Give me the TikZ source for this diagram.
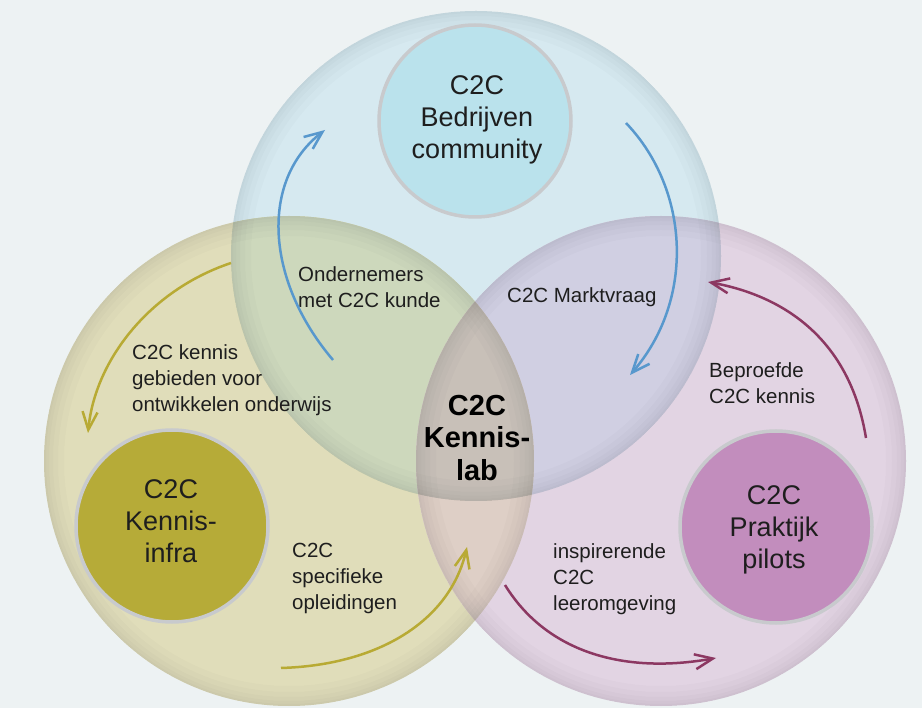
\documentclass[tikz,border=0pt]{standalone}
\usepackage{fontspec}
\setmainfont{Liberation Sans}
\usetikzlibrary{arrows.meta}
\definecolor{bg}{RGB}{237,242,243}
\definecolor{cT}{RGB}{214,233,240}
\definecolor{cL}{RGB}{224,221,186}
\definecolor{cR}{RGB}{226,212,227}
\definecolor{cTL}{RGB}{205,216,188}
\definecolor{cTR}{RGB}{208,207,226}
\definecolor{cLR}{RGB}{222,207,198}
\definecolor{cTLR}{RGB}{200,192,184}
\definecolor{tin}{RGB}{186,226,236}
\definecolor{tout}{RGB}{136,178,192}
\definecolor{lin}{RGB}{182,171,56}
\definecolor{lout}{RGB}{130,120,30}
\definecolor{rin}{RGB}{194,141,189}
\definecolor{rout}{RGB}{142,94,136}
\definecolor{rim}{RGB}{200,202,205}
\definecolor{ablue}{RGB}{88,152,205}
\definecolor{aolive}{RGB}{184,170,52}
\definecolor{apurple}{RGB}{140,56,98}
\definecolor{txt}{RGB}{30,30,30}
\pgfdeclareradialshading{ballT}{\pgfpoint{0bp}{0bp}}{color(0bp)=(tin); color(36bp)=(tin); color(50bp)=(tout); color(100bp)=(tout)}
\pgfdeclareradialshading{ballL}{\pgfpoint{0bp}{0bp}}{color(0bp)=(lin); color(36bp)=(lin); color(50bp)=(lout); color(100bp)=(lout)}
\pgfdeclareradialshading{ballR}{\pgfpoint{0bp}{0bp}}{color(0bp)=(rin); color(36bp)=(rin); color(50bp)=(rout); color(100bp)=(rout)}
\tikzset{
  ball/.style={circle, minimum size=192pt, inner sep=0pt, draw=rim, line width=3.5pt},
  bigtxt/.style={font=\fontsize{27pt}{32pt}\selectfont, text=txt, align=center, inner sep=0pt},
  centtxt/.style={font=\fontsize{29pt}{32.5pt}\selectfont\bfseries, text=black, align=center, inner sep=0pt},
  lbl/.style={font=\fontsize{20.5pt}{26pt}\selectfont, text=txt, align=left, inner sep=0pt, anchor=north west},
  arr/.style={line width=2.5pt, -{Straight Barb[length=18pt,width=15pt]}},
}
\begin{document}
\begin{tikzpicture}[x=1pt,y=-1pt]
\useasboundingbox (0,0) rectangle (922,708);
\fill[bg] (0,0) rectangle (922,708);
\coordinate (T) at (476,256);
\coordinate (L) at (289,461);
\coordinate (R) at (661,461);
\def\rr{245pt}
% regions
\fill[cT] (T) circle[radius=\rr];
\fill[cL] (L) circle[radius=\rr];
\fill[cR] (R) circle[radius=\rr];
\begin{scope}\clip (T) circle[radius=\rr]; \fill[cTL] (L) circle[radius=\rr]; \end{scope}
\begin{scope}\clip (T) circle[radius=\rr]; \fill[cTR] (R) circle[radius=\rr]; \end{scope}
\begin{scope}\clip (L) circle[radius=\rr]; \fill[cLR] (R) circle[radius=\rr]; \end{scope}
\begin{scope}\clip (T) circle[radius=\rr]; \clip (L) circle[radius=\rr]; \fill[cTLR] (R) circle[radius=\rr]; \end{scope}
% soft rims
\foreach \c in {T,L,R}{
  \begin{scope}
    \clip (\c) circle[radius=\rr];
    \foreach \w in {40,28,18,10,4}{
      \draw[black, opacity=0.014, line width=\w pt] (\c) circle[radius=\rr];
    }
  \end{scope}
}
% small balls
\node[ball, shading=ballT] (bedr) at (475,121) {};
\node[ball, shading=ballL] (infra) at (172,526) {};
\node[ball, shading=ballR] (prak) at (776,527) {};
\node[bigtxt] (bedrtxt) at (477,120) {C2C\\Bedrijven\\community};
\node[bigtxt] (infratxt) at (171,521) {C2C\\Kennis-\\infra};
\node[bigtxt] (praktxt) at (774,530) {C2C\\Praktijk\\pilots};
\node[centtxt] (lab) at (477,438) {C2C\\Kennis-\\lab};
% labels
\node[lbl] (ond) at (298,266) {Ondernemers\\met C2C kunde};
\node[lbl] (markt) at (507,287) {C2C Marktvraag};
\node[lbl] (kennis) at (132,344) {C2C kennis\\gebieden voor\\ontwikkelen onderwijs};
\node[lbl] (bepr) at (709,362) {Beproefde\\C2C kennis};
\node[lbl] (spec) at (292,543) {C2C\\specifieke\\opleidingen};
\node[lbl] (insp) at (553,543) {inspirerende\\C2C\\leeromgeving};
% arrow end points
\coordinate (b1s) at (333,360); \coordinate (b1e) at (325,130);
\coordinate (b2s) at (626,123); \coordinate (b2e) at (630,375);
\coordinate (p1s) at (866,438); \coordinate (p1e) at (708,282);
\coordinate (p2s) at (505,585); \coordinate (p2e) at (716,658);
\coordinate (o1s) at (231,263); \coordinate (o1e) at (88,433);
\coordinate (o2s) at (281,668); \coordinate (o2e) at (467,547);
\draw[arr, ablue] (b1s) .. controls (265,280) and (260,180) .. (b1e);
\draw[arr, ablue] (b2s) .. controls (690,190) and (695,300) .. (b2e);
\draw[arr, apurple] (p1s) .. controls (850,340) and (785,296) .. (p1e);
\draw[arr, apurple] (p2s) .. controls (545,650) and (620,675) .. (p2e);
\draw[arr, aolive] (o1s) .. controls (150,290) and (95,360) .. (o1e);
\draw[arr, aolive] (o2s) .. controls (380,665) and (450,620) .. (o2e);
\end{tikzpicture}
\end{document}
